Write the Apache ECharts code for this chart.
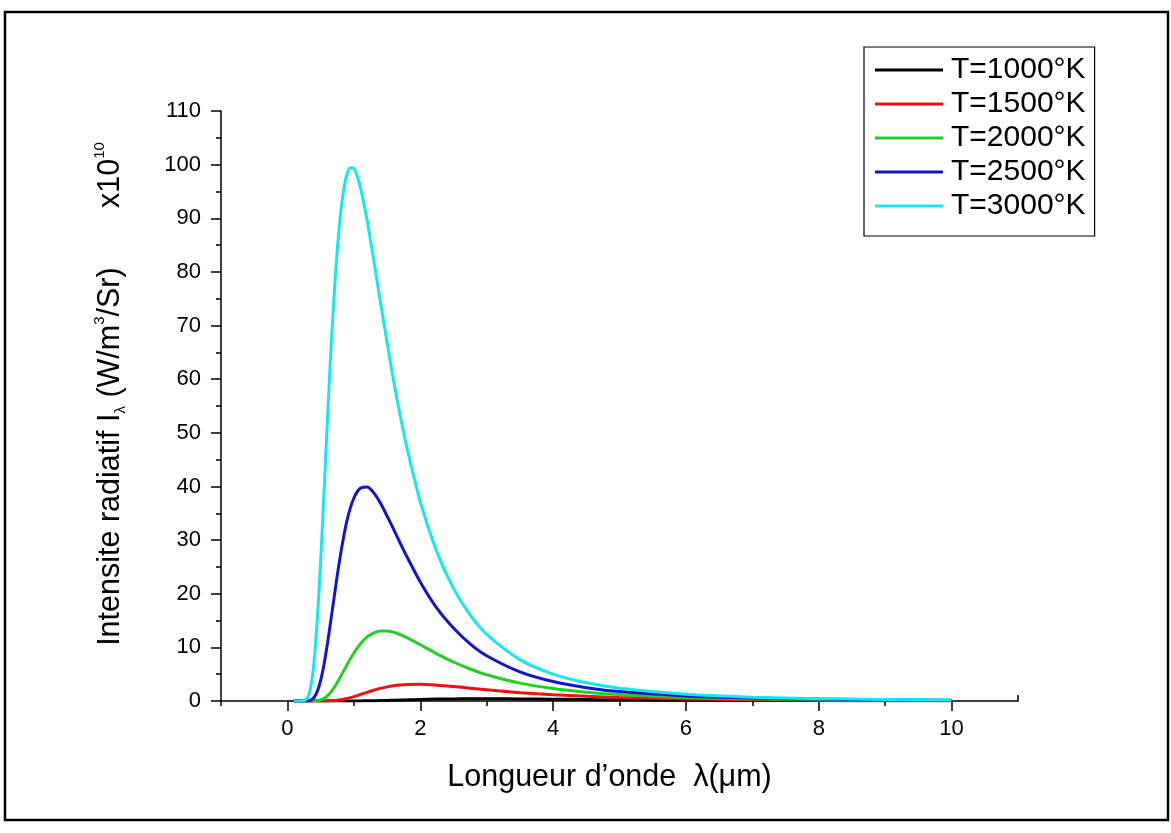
<!DOCTYPE html>
<html><head><meta charset="utf-8">
<script src="https://cdn.jsdelivr.net/npm/echarts@6/dist/echarts.min.js"></script>
<style>html,body{margin:0;padding:0;background:#fff}#c{width:1171px;height:833px}</style>
</head><body><div id="c"></div>
<script>
// Wavelength (µm)
const wavelength = [0.1,0.2,0.3,0.35,0.4,0.45,0.5,0.55,0.6,0.65,0.7,0.75,0.8,0.85,0.9,0.95,1.0,1.05,1.1,1.2,1.3,1.4,1.5,1.6,1.7,1.8,2.0,2.25,2.5,2.75,3.0,3.5,4.0,4.5,5,6,7,8,9,10];
// Intensity (x10^10 W/m3/Sr)
const T1000 = [0,0,0,0,0,0,0,0,0,0,0,0,0,0,0,0,0.01,0.01,0.02,0.03,0.05,0.08,0.11,0.14,0.18,0.21,0.28,0.35,0.39,0.41,0.41,0.38,0.33,0.28,0.23,0.15,0.10,0.07,0.05,0.04];
const T1500 = [0,0,0,0,0,0,0,0.01,0.02,0.04,0.08,0.14,0.23,0.34,0.47,0.63,0.81,1.01,1.21,1.62,2.01,2.35,2.63,2.84,2.98,3.07,3.10,2.95,2.69,2.39,2.09,1.56,1.16,0.87,0.66,0.39,0.24,0.16,0.11,0.07];
const T2000 = [0,0,0,0,0.02,0.07,0.22,0.49,0.95,1.60,2.44,3.43,4.53,5.67,6.80,7.92,8.95,9.88,10.69,11.95,12.72,13.07,13.07,12.81,12.37,11.80,10.48,8.80,7.27,5.97,4.90,3.33,2.31,1.64,1.19,0.66,0.40,0.25,0.17,0.11];
const T2500 = [0,0,0.02,0.16,0.65,1.80,3.8,6.76,10.5,14.7,19.0,23.4,27.3,30.8,33.8,36.1,37.8,39.0,39.7,39.9,38.8,36.9,34.5,32.0,29.4,26.9,22.2,17.3,13.6,10.65,8.44,5.43,3.62,2.49,1.76,0.95,0.56,0.35,0.23,0.15];
const T3000 = [0,0,0.56,2.53,7.2,15.2,26.0,38.6,51.7,64.2,75.0,84.0,90.8,95.5,98.3,99.4,99.3,97.9,95.7,89.6,82.2,74.4,66.9,59.6,53.1,47.2,37.2,27.8,21.0,16.04,12.4,7.72,5.02,3.39,2.37,1.25,0.72,0.44,0.29,0.19];
const seriesNames = ['T=1000°K','T=1500°K','T=2000°K','T=2500°K','T=3000°K'];
const xTickLabels = [0,2,4,6,8,10];
const xMinorTicks = [-1,1,3,5,7,9];
const xEndTicks = [11];

const seriesValues = [T1000,T1500,T2000,T2500,T3000];
const colors = ['#000000','#ee1111','#22d022','#1414c8','#18e6ee'];
const FONT = 'Liberation Sans, Arial, sans-serif';

const chart = echarts.init(document.getElementById('c'), null, {renderer:'canvas'});
chart.setOption({
  animation:false,
  backgroundColor:'#fff',
  textStyle:{fontFamily:FONT,color:'#000'},
  grid:{left:221,right:153,top:111,bottom:132,containLabel:false},
  legend:{
    data:seriesNames, orient:'vertical', left:864, top:47,
    padding:[8,9,15,11], itemWidth:68, itemHeight:3, icon:'rect', itemGap:4,
    borderColor:'#000', borderWidth:1.2, backgroundColor:'#fff',
    textStyle:{fontSize:30,color:'#000',fontFamily:FONT,lineHeight:30,padding:[0,0,0,3]}
  },
  xAxis:[{
    type:'value', min:-1, max:11,
    axisLine:{lineStyle:{color:'#000',width:1.5}},
    axisTick:{customValues:xTickLabels,length:10,lineStyle:{color:'#000',width:1.5}},
    axisLabel:{customValues:xTickLabels,fontSize:22,color:'#000',margin:17,fontFamily:FONT},
    splitLine:{show:false},
    name:'Longueur d’onde  λ(μm)', nameLocation:'middle', nameGap:61,
    nameTextStyle:{fontSize:30.5,color:'#000',fontFamily:FONT,padding:[0,20,0,0]}
  },{
    type:'value', min:-1, max:11, position:'bottom',
    axisLine:{show:false},
    axisTick:{customValues:xMinorTicks,length:5,lineStyle:{color:'#000',width:1.5}},
    axisLabel:{show:false}, splitLine:{show:false}
  },{
    type:'value', min:-1, max:11, position:'bottom',
    axisLine:{show:false},
    axisTick:{customValues:xEndTicks,inside:true,length:6,lineStyle:{color:'#000',width:1.5}},
    axisLabel:{show:false}, splitLine:{show:false}
  }],
  yAxis:{
    type:'value', min:0, max:110, interval:10,
    axisLine:{show:true,onZero:false,lineStyle:{color:'#000',width:1.5}},
    axisTick:{show:true,length:10,lineStyle:{color:'#000',width:1.5}},
    minorTick:{show:true,splitNumber:2,length:5,lineStyle:{color:'#000',width:1.5}},
    axisLabel:{fontSize:22,color:'#000',margin:20,fontFamily:FONT},
    splitLine:{show:false},
    name:'{a|Intensite radiatif I}{sub|λ}{a| (W/m}{sup|3}{a|/Sr)       x10}{sup|10}',
    nameLocation:'middle', nameGap:91, nameRotate:90,
    nameTextStyle:{
      fontFamily:FONT,color:'#000',padding:[0,0,0,24],
      rich:{
        a:{fontSize:30.5,fontFamily:FONT,color:'#000',lineHeight:38},
        sub:{fontSize:15,fontFamily:FONT,color:'#000',verticalAlign:'bottom',lineHeight:38,padding:[0,0,2,0]},
        sup:{fontSize:15,fontFamily:FONT,color:'#000',verticalAlign:'top',lineHeight:38}
      }
    }
  },
  graphic:[{type:'rect',shape:{x:5,y:12,width:1163,height:808},style:{fill:'none',stroke:'#000',lineWidth:2.5},z:100}],
  series: seriesValues.map((vals,k)=>({
    name:seriesNames[k], type:'line', xAxisIndex:0, yAxisIndex:0,
    symbol:'none', smooth:0.3,
    lineStyle:{width:3,color:colors[k]}, itemStyle:{color:colors[k]},
    data: wavelength.map((x,i)=>[x, vals[i]])
  }))
});
</script></body></html>
